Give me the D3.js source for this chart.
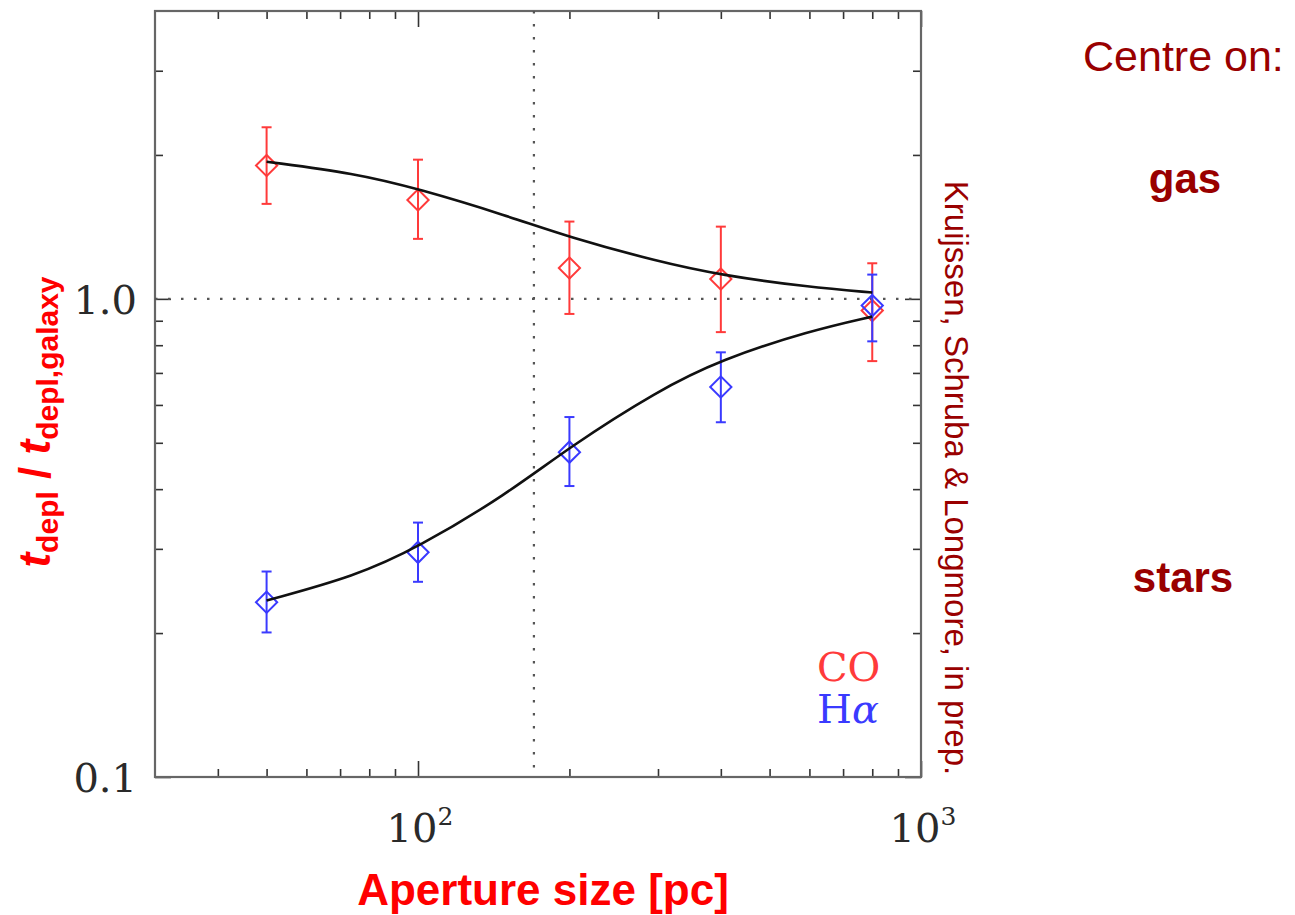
<!DOCTYPE html>
<html>
<head>
<meta charset="utf-8">
<script src="https://cdn.jsdelivr.net/npm/d3@7"></script>
<style>
body { margin: 0; background: #fff; }
svg { display: block; }
</style>
</head>
<body>
<svg id="chart" width="1295" height="915"></svg>
<script>
var width = 1295;
var height = 915;

var apertures = [50, 100, 200, 400, 800];
var coValue = [1.90, 1.61, 1.16, 1.10, 0.945];
var coLow = [1.58, 1.335, 0.93, 0.852, 0.741];
var coHigh = [2.285, 1.955, 1.451, 1.416, 1.187];
var haValue = [0.232, 0.295, 0.478, 0.654, 0.968];
var haLow = [0.2006, 0.256, 0.406, 0.552, 0.815];
var haHigh = [0.269, 0.3405, 0.566, 0.773, 1.124];

// model curves
var fitSizes = [50, 75, 100, 150, 200, 300, 400, 600, 800];
var coFit = [1.936, 1.83, 1.70, 1.494, 1.345, 1.197, 1.121, 1.058, 1.031];
var haFit = [0.234, 0.263, 0.302, 0.39, 0.49, 0.643, 0.746, 0.857, 0.918];

// axes
var xMajor = [100, 1000];
var xMajorLabel = ["2", "3"];
var xMinor = [40, 50, 60, 70, 80, 90, 200, 300, 400, 500, 600, 700, 800, 900];
var yMajor = [0.1, 1.0];
var yMajorLabel = ["0.1", "1.0"];
var yMinor = [0.2, 0.3, 0.4, 0.5, 0.6, 0.7, 0.8, 0.9, 2, 3];
var vLine = 170;
var hLine = 1.0;

var plot = {left: 155, right: 921, top: 11, bottom: 777};
var coColor = "#ff3a3a";
var haColor = "#3a3aff";
var darkRed = "#990000";

var svg = d3.select("#chart");
svg.append("rect").attr("width", width).attr("height", height).attr("fill", "#fff");

var x = d3.scaleLog().domain([30, 1000]).range([plot.left, plot.right]);
var y = d3.scaleLog().domain([0.1, 4]).range([plot.bottom, plot.top]);

// ticks on all four sides, pointing inward
function addTicks(axisFn, scale, values, size, tx, ty) {
  var g = svg.append("g")
    .attr("transform", "translate(" + tx + "," + ty + ")")
    .call(axisFn(scale).tickValues(values).tickSize(size).tickSizeOuter(0).tickFormat(""));
  g.select(".domain").remove();
  g.selectAll(".tick line").attr("stroke", "#333").attr("stroke-width", 1.6);
}
addTicks(d3.axisBottom, x, xMajor, -16, 0, plot.bottom);
addTicks(d3.axisBottom, x, xMinor, -8, 0, plot.bottom);
addTicks(d3.axisTop, x, xMajor, -16, 0, plot.top);
addTicks(d3.axisTop, x, xMinor, -8, 0, plot.top);
addTicks(d3.axisLeft, y, yMajor, -16, plot.left, 0);
addTicks(d3.axisLeft, y, yMinor, -8, plot.left, 0);
addTicks(d3.axisRight, y, yMajor, -16, plot.right, 0);
addTicks(d3.axisRight, y, yMinor, -8, plot.right, 0);

// frame
svg.append("rect")
  .attr("x", plot.left).attr("y", plot.top)
  .attr("width", plot.right - plot.left).attr("height", plot.bottom - plot.top)
  .attr("fill", "none").attr("stroke", "#666").attr("stroke-width", 2.2);

// dotted reference lines
svg.append("line")
  .attr("x1", x(vLine)).attr("x2", x(vLine))
  .attr("y1", plot.top).attr("y2", plot.bottom)
  .attr("stroke", "#555").attr("stroke-width", 2.2).attr("stroke-dasharray", "2.5,10.5");
svg.append("line")
  .attr("x1", plot.left).attr("x2", plot.right)
  .attr("y1", y(hLine)).attr("y2", y(hLine))
  .attr("stroke", "#555").attr("stroke-width", 2.2).attr("stroke-dasharray", "2.5,10.5");

// tick labels
svg.selectAll(".ylab").data(yMajor).enter().append("text")
  .attr("class", "ylab")
  .attr("x", 137)
  .attr("y", function(d) { return y(d) + 15; })
  .attr("text-anchor", "end")
  .attr("font-family", "DejaVu Serif")
  .attr("font-size", 40)
  .attr("fill", "#2a2a2a")
  .text(function(d, i) { return yMajorLabel[i]; });

var xl = svg.selectAll(".xlab").data(xMajor).enter().append("text")
  .attr("class", "xlab")
  .attr("x", function(d) { return x(d) + 2; })
  .attr("y", 842)
  .attr("text-anchor", "middle")
  .attr("font-family", "DejaVu Serif")
  .attr("font-size", 40)
  .attr("fill", "#2a2a2a");
xl.append("tspan").text("10");
xl.append("tspan").attr("dy", -17).attr("font-size", 25).text(function(d, i) { return xMajorLabel[i]; });

// error bars + diamonds
function drawSeries(vals, lows, highs, color) {
  var g = svg.append("g");
  apertures.forEach(function(a, i) {
    var cx = x(a);
    g.append("line").attr("x1", cx).attr("x2", cx)
      .attr("y1", y(lows[i])).attr("y2", y(highs[i]))
      .attr("stroke", color).attr("stroke-width", 2);
    [lows[i], highs[i]].forEach(function(v) {
      g.append("line").attr("x1", cx - 5).attr("x2", cx + 5)
        .attr("y1", y(v)).attr("y2", y(v))
        .attr("stroke", color).attr("stroke-width", 2);
    });
    g.append("path")
      .attr("d", d3.symbol().type(d3.symbolSquare).size(225)())
      .attr("transform", "translate(" + cx + "," + y(vals[i]) + ") rotate(45)")
      .attr("fill", "none").attr("stroke", color).attr("stroke-width", 2);
  });
}
drawSeries(coValue, coLow, coHigh, coColor);
drawSeries(haValue, haLow, haHigh, haColor);

// fitted curves
var line = d3.line()
  .x(function(d) { return x(d[0]); })
  .y(function(d) { return y(d[1]); })
  .curve(d3.curveBasis);
[coFit, haFit].forEach(function(fit) {
  svg.append("path")
    .attr("d", line(fitSizes.map(function(s, i) { return [s, fit[i]]; })))
    .attr("fill", "none").attr("stroke", "#111").attr("stroke-width", 2.6);
});

// legend
svg.append("text").attr("x", 817).attr("y", 681)
  .attr("font-family", "DejaVu Serif").attr("font-size", 40)
  .attr("fill", coColor).text("CO");
var ha = svg.append("text").attr("x", 817).attr("y", 723)
  .attr("font-family", "DejaVu Serif").attr("font-size", 40)
  .attr("fill", haColor);
ha.append("tspan").text("H");
ha.append("tspan").attr("font-style", "italic").text("\u03b1");

// x title
svg.append("text").attr("x", 543).attr("y", 905)
  .attr("text-anchor", "middle")
  .attr("font-family", "Liberation Sans, Arial, sans-serif")
  .attr("font-weight", "bold").attr("font-size", 44)
  .attr("fill", "#ff0000").text("Aperture size [pc]");

// y title
var yt = svg.append("text")
  .attr("transform", "translate(50,422) rotate(-90)")
  .attr("text-anchor", "middle")
  .attr("font-family", "Liberation Sans, Arial, sans-serif")
  .attr("font-weight", "bold").attr("font-size", 44)
  .attr("fill", "#ff0000");
yt.append("tspan").attr("font-style", "italic").text("t");
yt.append("tspan").attr("font-size", 30).attr("dy", 8).text("depl");
yt.append("tspan").attr("dy", -8).text(" / ");
yt.append("tspan").attr("font-style", "italic").text("t");
yt.append("tspan").attr("font-size", 30).attr("dy", 8).text("depl,galaxy");

// credit, rotated
svg.append("text")
  .attr("transform", "translate(945,478) rotate(90)")
  .attr("text-anchor", "middle")
  .attr("font-family", "Liberation Sans, Arial, sans-serif")
  .attr("font-size", 33)
  .attr("fill", darkRed)
  .text("Kruijssen, Schruba & Longmore, in prep.");

// side annotations
svg.append("text").attr("x", 1083).attr("y", 71)
  .attr("font-family", "Liberation Sans, Arial, sans-serif")
  .attr("font-size", 43).attr("fill", darkRed).text("Centre on:");
svg.append("text").attr("x", 1185).attr("y", 193).attr("text-anchor", "middle")
  .attr("font-family", "Liberation Sans, Arial, sans-serif")
  .attr("font-weight", "bold").attr("font-size", 42).attr("fill", darkRed).text("gas");
svg.append("text").attr("x", 1183).attr("y", 592).attr("text-anchor", "middle")
  .attr("font-family", "Liberation Sans, Arial, sans-serif")
  .attr("font-weight", "bold").attr("font-size", 42).attr("fill", darkRed).text("stars");
</script>
</body>
</html>
